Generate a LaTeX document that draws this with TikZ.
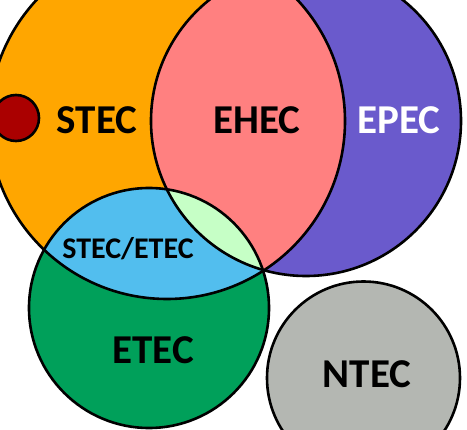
\documentclass[tikz,border=0pt]{standalone}
\usepackage{fontspec}
\setmainfont{Carlito}
\definecolor{stecorange}{RGB}{255,166,0}
\definecolor{ehecpink}{RGB}{255,128,128}
\definecolor{epecpurple}{RGB}{106,90,204}
\definecolor{etecgreen}{RGB}{0,160,90}
\definecolor{mixblue}{RGB}{82,190,238}
\definecolor{mixgreen}{RGB}{198,255,198}
\definecolor{ntecgray}{RGB}{180,183,178}
\definecolor{dotred}{RGB}{170,0,0}
\begin{document}
\begin{tikzpicture}[line cap=round,line join=round,x=1pt,y=-1pt,
	bigtext/.style={font=\fontsize{41}{45}\selectfont\bfseries},
	smalltext/.style={font=\fontsize{30}{34}\selectfont\bfseries},
	rim/.style={line width=2.6pt,black}]
	\useasboundingbox (0,0) rectangle (467,430);
	\fill [white] (0,0) rectangle (467,430);
	\clip (0,0) rectangle (467,430);
	% big circles
	\fill [stecorange] (167,121) circle (178pt);
	\fill [epecpurple] (306,121) circle (155pt);
	\begin{scope}
		\clip (167,121) circle (178pt);
		\fill [ehecpink] (306,121) circle (155pt);
	\end{scope}
	\fill [etecgreen] (149,308) circle (120pt);
	\begin{scope}
		\clip (149,308) circle (120pt);
		\fill [mixblue] (167,121) circle (178pt);
		\fill [mixgreen] (306,121) circle (155pt);
	\end{scope}
	\fill [ntecgray] (363.5,378) circle (96.5pt);
	% outlines
	\draw [rim] (167,121) circle (178pt);
	\draw [rim] (306,121) circle (155pt);
	\draw [rim] (149,308) circle (120pt);
	\draw [rim] (363.5,378) circle (96.5pt);
	\draw [rim,fill=dotred] (16,118) circle (23pt);
	% labels
	\node [bigtext] (stec) at (97,120) {STEC};
	\node [bigtext] (ehec) at (257,120) {EHEC};
	\node [bigtext,white] (epec) at (399,120) {EPEC};
	\node [smalltext] (stecetec) at (128,249) {STEC/ETEC};
	\node [bigtext] (etec) at (153,350) {ETEC};
	\node [bigtext] (ntec) at (367,374) {NTEC};
\end{tikzpicture}
\end{document}
